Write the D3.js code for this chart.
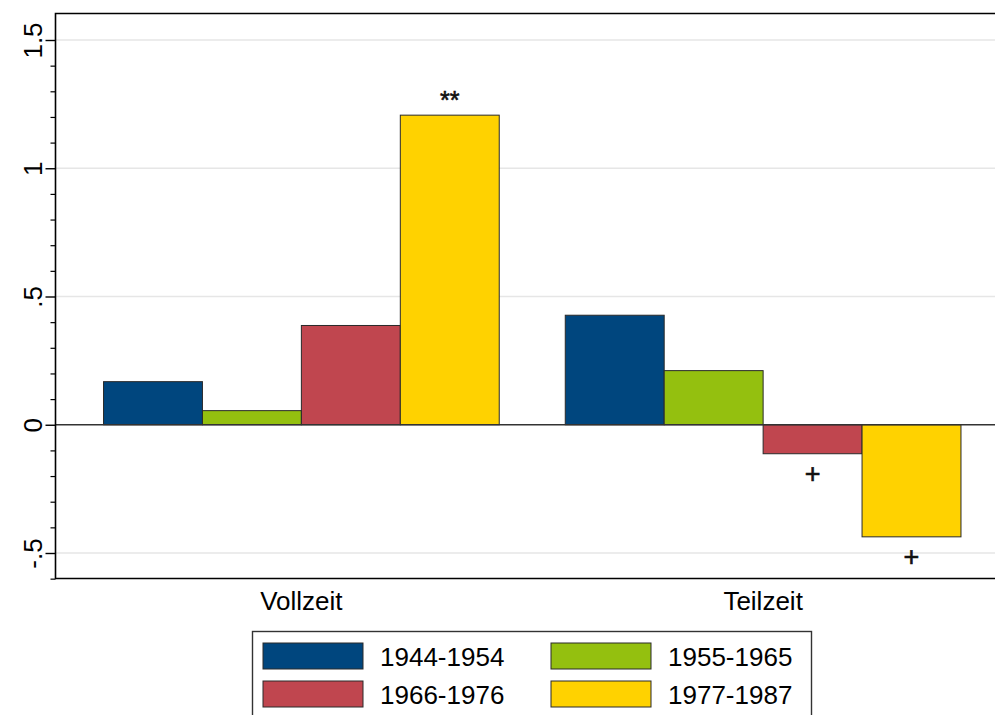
<!DOCTYPE html>
<html>
<head>
<meta charset="utf-8">
<script src="https://cdn.jsdelivr.net/npm/d3@7"></script>
<style>
  html, body { margin: 0; padding: 0; background: #fff; }
  svg { display: block; font-family: Arial, "Liberation Sans", sans-serif; }
</style>
</head>
<body>
<svg id="chart" width="995" height="715"></svg>
<script>
const categories = ["Vollzeit", "Teilzeit"];
const seriesNames = ["1944-1954", "1955-1965", "1966-1976", "1977-1987"];
const colors = ["#00467e", "#94c00f", "#c0464f", "#ffd200"];
const vollzeitValues = [0.168, 0.055, 0.387, 1.207];
const teilzeitValues = [0.427, 0.211, -0.113, -0.437];
const yTicks = [-0.5, 0, 0.5, 1, 1.5];
const yTickLabels = ["-.5", "0", ".5", "1", "1.5"];
const yMinorTicks = d3.range(-6, 16).map(d => d / 10);
const annotations = [
  { category: "Vollzeit", series: "1977-1987", text: "**" },
  { category: "Teilzeit", series: "1966-1976", text: "+" },
  { category: "Teilzeit", series: "1977-1987", text: "+" }
];

const valuesByCategory = { "Vollzeit": vollzeitValues, "Teilzeit": teilzeitValues };
const data = categories.flatMap(c => seriesNames.map((s, i) => ({ category: c, series: s, value: valuesByCategory[c][i] })));

const svg = d3.select("#chart");
const plot = { left: 55.5, right: 1009, top: 13.5, bottom: 578.5 };
const FS = 26;

const y = d3.scaleLinear().domain([-0.5, 1.5]).range([553, 40]);
const x0 = d3.scaleBand().domain(categories).range([plot.left, plot.right]).paddingInner(0.143).paddingOuter(0.104);
const x1 = d3.scaleBand().domain(seriesNames).range([0, x0.bandwidth()]);
const color = d3.scaleOrdinal().domain(seriesNames).range(colors);

// gridlines
svg.append("g").selectAll("line").data(yTicks.filter(t => t !== 0)).join("line")
  .attr("x1", plot.left).attr("x2", plot.right)
  .attr("y1", d => y(d)).attr("y2", d => y(d))
  .attr("stroke", "#e6e6e6").attr("stroke-width", 1.5);

// bars
svg.append("g").selectAll("rect").data(data).join("rect")
  .attr("x", d => x0(d.category) + x1(d.series))
  .attr("width", x1.bandwidth())
  .attr("y", d => y(Math.max(0, d.value)))
  .attr("height", d => Math.abs(y(d.value) - y(0)))
  .attr("fill", d => color(d.series))
  .attr("stroke", "#2a2a2a").attr("stroke-width", 1);

// zero line
svg.append("line")
  .attr("x1", plot.left).attr("x2", plot.right)
  .attr("y1", y(0)).attr("y2", y(0))
  .attr("stroke", "#333").attr("stroke-width", 1.6);

// annotations
svg.append("g").selectAll("text").data(annotations).join("text")
  .attr("x", d => x0(d.category) + x1(d.series) + x1.bandwidth() / 2)
  .attr("y", d => {
    const v = valuesByCategory[d.category][seriesNames.indexOf(d.series)];
    return v >= 0 ? y(v) - 6 : y(v) + 29;
  })
  .attr("text-anchor", "middle")
  .attr("font-size", d => d.text === "**" ? 25 : 27)
  .attr("fill", "#111")
  .attr("stroke", "#111").attr("stroke-width", 0.6)
  .text(d => d.text);

// frame (left, top, bottom)
svg.append("path")
  .attr("d", `M${plot.right},${plot.top}H${plot.left}V${plot.bottom}H${plot.right}`)
  .attr("fill", "none").attr("stroke", "#000").attr("stroke-width", 1.6);

// y axis
const yAxis = d3.axisLeft(y).tickValues(yTicks).tickSize(10)
  .tickFormat((d, i) => yTickLabels[i]);
const ya = svg.append("g").attr("transform", `translate(${plot.left},0)`).call(yAxis);
ya.select(".domain").remove();
ya.selectAll(".tick line").attr("stroke", "#000").attr("stroke-width", 1.4);
ya.selectAll(".tick text")
  .attr("font-size", FS).attr("fill", "#000")
  .attr("x", 0).attr("dy", 0)
  .attr("text-anchor", "middle")
  .attr("transform", "translate(-14,0) rotate(-90)");

const yMinor = d3.axisLeft(y).tickValues(yMinorTicks.filter(t => !yTicks.some(m => Math.abs(m - t) < 1e-9))).tickSize(5).tickFormat("");
const ym = svg.append("g").attr("transform", `translate(${plot.left},0)`).call(yMinor);
ym.select(".domain").remove();
ym.selectAll(".tick line").attr("stroke", "#000").attr("stroke-width", 1.2);

// x axis labels
const xAxis = d3.axisBottom(x0).tickSize(0);
const xa = svg.append("g").attr("transform", `translate(0,${plot.bottom})`).call(xAxis);
xa.select(".domain").remove();
xa.selectAll(".tick text").attr("font-size", FS).attr("fill", "#000")
  .attr("font-family", "Arial, 'Liberation Sans', sans-serif")
  .attr("y", 31).attr("dy", 0);

// legend
const legend = svg.append("g");
legend.append("rect")
  .attr("x", 252.5).attr("y", 631.5).attr("width", 559).attr("height", 100)
  .attr("fill", "#fff").attr("stroke", "#333").attr("stroke-width", 1.4);
const legendPos = [
  { sx: 263, sy: 643 }, { sx: 551, sy: 643 },
  { sx: 263, sy: 681 }, { sx: 551, sy: 681 }
];
const li = legend.selectAll("g.item").data(seriesNames).join("g").attr("class", "item")
  .attr("transform", (d, i) => `translate(${legendPos[i].sx},${legendPos[i].sy})`);
li.append("rect").attr("width", 100).attr("height", 26)
  .attr("fill", d => color(d)).attr("stroke", "#2a2a2a").attr("stroke-width", 1);
li.append("text").attr("x", 117).attr("y", 23)
  .attr("font-size", FS).attr("fill", "#000").text(d => d);
</script>
</body>
</html>
